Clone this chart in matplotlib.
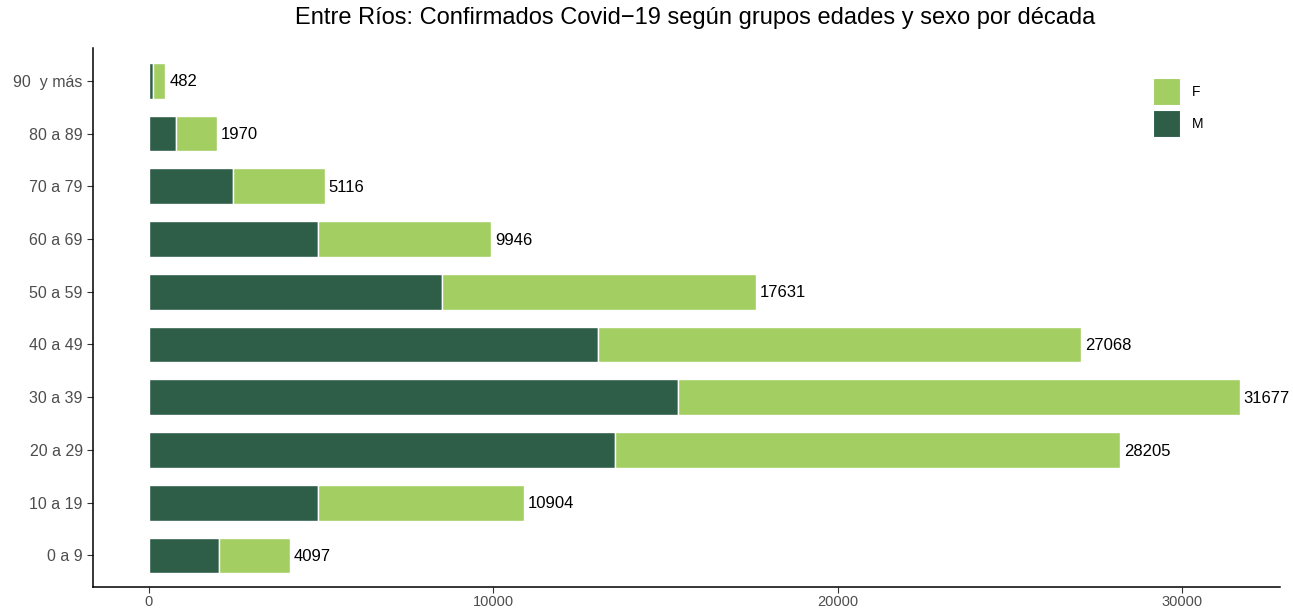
import matplotlib
matplotlib.use("Agg")
import matplotlib.pyplot as plt
from matplotlib.patches import Rectangle

plt.rcParams['font.family'] = ['Liberation Sans', 'DejaVu Sans']

categories = ["0 a 9", "10 a 19", "20 a 29", "30 a 39", "40 a 49",
              "50 a 59", "60 a 69", "70 a 79", "80 a 89", "90  y más"]
totals = [4097, 10904, 28205, 31677, 27068, 17631, 9946, 5116, 1970, 482]
male = [2050, 4900, 13550, 15370, 13050, 8510, 4900, 2430, 780, 110]
female = [t - m for t, m in zip(totals, male)]
xticks = [0, 10000, 20000, 30000]
legend_labels = ["F", "M"]

col_m = "#2E5E48"
col_f = "#A3CE62"

W, H = 1293, 609
fig = plt.figure(figsize=(W / 100, H / 100), dpi=100)
ax = fig.add_axes([0.072, 0.036, 0.918, 0.885])

y = list(range(len(categories)))
ax.barh(y, male, height=0.68, color=col_m, edgecolor="white", linewidth=1.0)
ax.barh(y, female, left=male, height=0.68, color=col_f, edgecolor="white", linewidth=1.0)
for yi, t in zip(y, totals):
    ax.text(t + 110, yi - 0.02, str(t), va="center", ha="left", fontsize=12, color="black")

ax.set_yticks(y)
ax.set_yticklabels(categories)
ax.set_xticks(xticks)
ax.set_xticklabels([str(v) for v in xticks])
ax.set_xlim(-1620, 32850)
ax.set_ylim(-0.6, 9.62)
ax.tick_params(axis="both", colors="#333333", labelcolor="#4d4d4d", length=4, width=0.8)
ax.tick_params(axis="y", labelsize=11.5)
ax.tick_params(axis="x", labelsize=10.5, pad=1.5)
for s in ["top", "right"]:
    ax.spines[s].set_visible(False)
for s in ["left", "bottom"]:
    ax.spines[s].set_linewidth(1.1)
    ax.spines[s].set_color("black")

fig.suptitle("Entre Ríos: Confirmados Covid\u221219 según grupos edades y sexo por década",
             fontsize=17, x=0.5375, y=0.988, va="top")

# legend (ggplot-style square keys)
for (lab, col, top) in zip(legend_labels, [col_f, col_m], [78, 110]):
    fig.patches.append(Rectangle((1153 / W, (H - top - 27) / H), 27 / W, 27 / H,
                                 transform=fig.transFigure, facecolor=col,
                                 edgecolor="white", linewidth=0.8))
    fig.text(1192 / W, (H - top - 13.5) / H, lab, ha="left", va="center",
             fontsize=10, color="black")

fig.savefig("out.png", dpi=100)
